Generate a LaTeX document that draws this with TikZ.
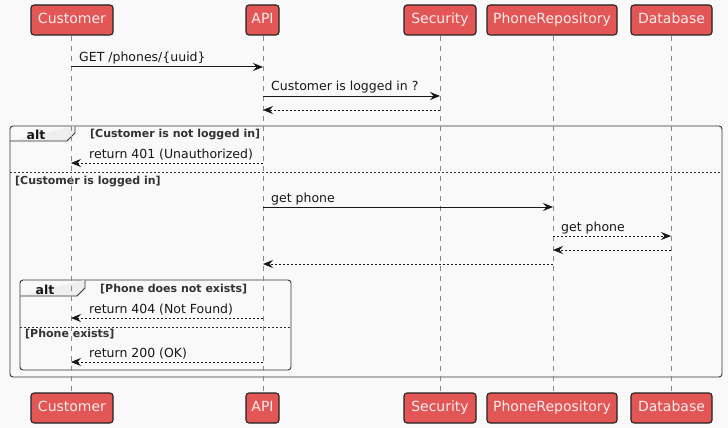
\documentclass[tikz,border=0pt]{standalone}
\usepackage{fontspec}
\setmainfont{DejaVu Sans}
\usetikzlibrary{arrows.meta}
\definecolor{bg}{HTML}{F9F9F9}
\definecolor{partfill}{HTML}{E35656}
\definecolor{partline}{HTML}{222222}
\definecolor{lifec}{HTML}{888888}
\definecolor{ink}{HTML}{181818}
\definecolor{guardc}{HTML}{333333}
\definecolor{tabfill}{HTML}{EEEEEE}
\definecolor{parttext}{HTML}{FCECEC}
\begin{document}
\begin{tikzpicture}[x=1pt,y=-1pt,
  part/.style={draw=partline, fill=partfill, line width=1.1pt, rounded corners=3pt,
    minimum height=30pt, inner xsep=0pt, text height=10.5pt, text depth=3pt,
    text=parttext, font=\fontsize{14}{16}\selectfont},
  life/.style={draw=lifec, line width=0.7pt, dash pattern=on 5pt off 5pt},
  tip/.style={-{Stealth[length=10pt,width=8pt,inset=3.5pt]}},
  msg/.style={draw=ink, line width=1pt, tip},
  ret/.style={draw=ink, line width=0.8pt, dash pattern=on 2pt off 2pt, tip},
  lbl/.style={anchor=base west, inner sep=0pt, text=ink, font=\fontsize{12.5}{14}\selectfont},
  guard/.style={anchor=base west, inner sep=0pt, text=guardc, font=\bfseries\fontsize{11}{13}\selectfont},
  alttxt/.style={anchor=base, inner sep=0pt, text=ink, font=\bfseries\fontsize{12.5}{14}\selectfont},
  frame/.style={draw=guardc, line width=0.9pt, rounded corners=3pt},
  sep/.style={draw=guardc, line width=0.8pt, dash pattern=on 2pt off 2pt}
]
\fill[bg] (0,0) rectangle (728,428);
\useasboundingbox (0,0) rectangle (728,428);

% participants
\node[part, minimum width=82pt] (custT) at (72,20) {Customer};
\node[part, minimum width=33pt] (apiT) at (262.5,20) {API};
\node[part, minimum width=72pt] (secT) at (440,20) {Security};
\node[part, minimum width=130pt] (repT) at (552,20) {PhoneRepository};
\node[part, minimum width=81pt] (dbT) at (671.5,20) {Database};
\node[part, minimum width=82pt] (custB) at (72,408) {Customer};
\node[part, minimum width=33pt] (apiB) at (262.5,408) {API};
\node[part, minimum width=72pt] (secB) at (440,408) {Security};
\node[part, minimum width=130pt] (repB) at (552,408) {PhoneRepository};
\node[part, minimum width=81pt] (dbB) at (671.5,408) {Database};

% frames (drawn before lifelines)
\draw[frame] (10,126) rectangle (722,377);
\draw[frame, fill=tabfill, rounded corners=0pt] (10,141) -- (67,141) -- (75,133) -- (75,126);
\node[alttxt] (alt1) at (36,139) {alt};
\node[guard] (g1) at (90,137) {[Customer is not logged in]};
\draw[sep] (10,172) -- (722,172);
\node[guard] (g2) at (15,184) {[Customer is logged in]};

\draw[frame] (20,280) rectangle (291,370);
\draw[frame, fill=tabfill, rounded corners=0pt] (20,296) -- (77,296) -- (85,288) -- (85,280);
\node[alttxt] (alt2) at (45,294) {alt};
\node[guard] (g3) at (100,292) {[Phone does not exists]};
\draw[sep] (20,327) -- (291,327);
\node[guard] (g4) at (25,337) {[Phone exists]};

% lifelines
\draw[life] (custT.south -| 71,0) -- (custB.north -| 71,0);
\draw[life] (apiT.south -| 263,0) -- (apiB.north -| 263,0);
\draw[life] (secT.south -| 440,0) -- (secB.north -| 440,0);
\draw[life] (repT.south -| 553,0) -- (repB.north -| 553,0);
\draw[life] (dbT.south -| 671,0) -- (dbB.north -| 671,0);

% message points
\coordinate (c1) at (71,67);  \coordinate (a1) at (263,67);
\coordinate (a2) at (263,96); \coordinate (s2) at (440,96);
\coordinate (s3) at (440,110); \coordinate (a3) at (263,110);
\coordinate (a4) at (263,163); \coordinate (c4) at (71,163);
\coordinate (a5) at (263,207); \coordinate (r5) at (553,207);
\coordinate (r6) at (553,236); \coordinate (d6) at (671,236);
\coordinate (d7) at (671,250); \coordinate (r7) at (553,250);
\coordinate (r8) at (553,264); \coordinate (a8) at (263,264);
\coordinate (a9) at (263,318); \coordinate (c9) at (71,318);
\coordinate (a10) at (263,362); \coordinate (c10) at (71,362);

\draw[msg] (c1) -- (a1);
\node[lbl] (l1) at (79,62) {GET /phones/\{uuid\}};
\draw[msg] (a2) -- (s2);
\node[lbl] (l2) at (271,91) {Customer is logged in ?};
\draw[ret] (s3) -- (a3);
\draw[ret] (a4) -- (c4);
\node[lbl] (l4) at (89,158) {return 401 (Unauthorized)};
\draw[msg] (a5) -- (r5);
\node[lbl] (l5) at (271,202) {get phone};
\draw[ret] (r6) -- (d6);
\node[lbl] (l6) at (561,231) {get phone};
\draw[ret] (d7) -- (r7);
\draw[ret] (r8) -- (a8);
\draw[ret] (a9) -- (c9);
\node[lbl] (l9) at (89,313) {return 404 (Not Found)};
\draw[ret] (a10) -- (c10);
\node[lbl] (l10) at (89,357) {return 200 (OK)};
\end{tikzpicture}
\end{document}
